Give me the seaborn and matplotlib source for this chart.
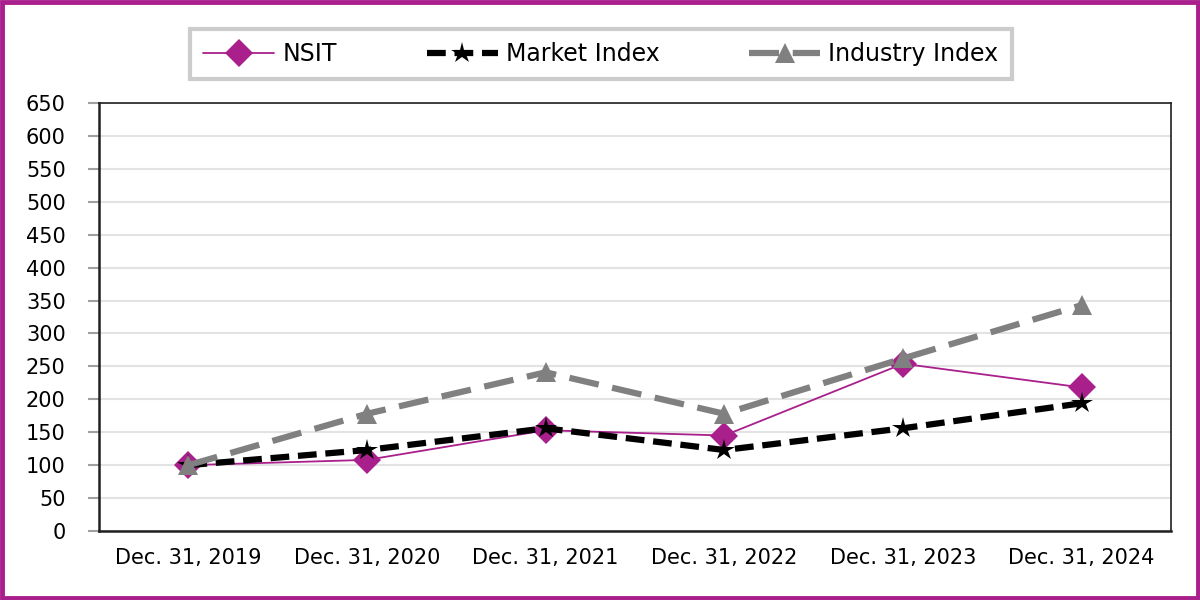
import pandas as pd
import matplotlib
matplotlib.use("Agg")
import matplotlib.pyplot as plt
import seaborn as sns
from matplotlib.patches import Rectangle

dates = ["Dec. 31, 2019", "Dec. 31, 2020", "Dec. 31, 2021", "Dec. 31, 2022", "Dec. 31, 2023", "Dec. 31, 2024"]
nsit = [100, 108, 153, 145, 254, 218]
market = [100, 123, 156, 123, 156, 194]
industry = [100, 178, 241, 178, 262, 343]

sns.set_style("white")
plt.rcParams["font.family"] = ["DejaVu Sans"]
plt.rcParams["text.color"] = "black"
plt.rcParams["xtick.labelcolor"] = "black"
plt.rcParams["ytick.labelcolor"] = "black"

df = pd.DataFrame({"pos": range(len(dates)), "NSIT": nsit, "Market Index": market, "Industry Index": industry})

fig = plt.figure(figsize=(12, 6), dpi=100)
ax = fig.add_axes([99 / 1200, 69 / 600, (1171 - 99) / 1200, (531 - 103) / 600])

sns.lineplot(data=df, x="pos", y="NSIT", ax=ax, color="#A91F8C", linewidth=1.3,
             marker="D", markersize=14.5, markeredgewidth=0, label="NSIT")
sns.lineplot(data=df, x="pos", y="Market Index", ax=ax, color="black", linewidth=4.5,
             dashes=(3, 1.4), marker="*", markersize=16, markeredgewidth=0, label="Market Index")
sns.lineplot(data=df, x="pos", y="Industry Index", ax=ax, color="#808080", linewidth=4.5,
             dashes=(4.8, 2.2), marker="^", markersize=14, markeredgewidth=0, label="Industry Index")

ax.set_xlim(-0.5, len(dates) - 0.5)
ax.set_ylim(0, 650)
ax.set_yticks(range(0, 651, 50))
ax.set_xticks(range(len(dates)))
ax.set_xticklabels(dates)
ax.set_xticks([i - 0.5 for i in range(len(dates) + 1)], minor=True)
ax.set_xlabel("")
ax.set_ylabel("")
ax.yaxis.grid(True, color="#E3E3E3", linewidth=1.5)
ax.set_axisbelow(True)
ax.tick_params(axis="x", which="major", length=0, labelsize=15, pad=12)
ax.tick_params(axis="x", which="minor", length=10, width=1.5, color="#A0A0A0", direction="out")
ax.tick_params(axis="y", which="major", left=True, direction="out", length=8, width=1.5,
               color="#A0A0A0", labelsize=15)
ax.yaxis.set_tick_params(pad=16)
for s in ax.spines.values():
    s.set_color("#202020")
    s.set_linewidth(1.2)
ax.spines["left"].set_linewidth(1.8)
ax.spines["bottom"].set_linewidth(1.8)

ax.get_legend().remove()
h, l = ax.get_legend_handles_labels()
leg = fig.legend(h, l, loc="center", bbox_to_anchor=(601 / 1200, 1 - 54 / 600), ncol=3,
                 fontsize=17, frameon=True, fancybox=False, columnspacing=3.8,
                 handlelength=3.0, handletextpad=0.35, borderpad=0.55, borderaxespad=0)
leg.get_frame().set_edgecolor("#C0C0C0")
leg.get_frame().set_linewidth(3)

fig.patches.append(Rectangle((0.002, 0.003), 0.996, 0.994, transform=fig.transFigure,
                             fill=False, edgecolor="#A91F8C", linewidth=3.5))

fig.savefig("out.png", dpi=100)
